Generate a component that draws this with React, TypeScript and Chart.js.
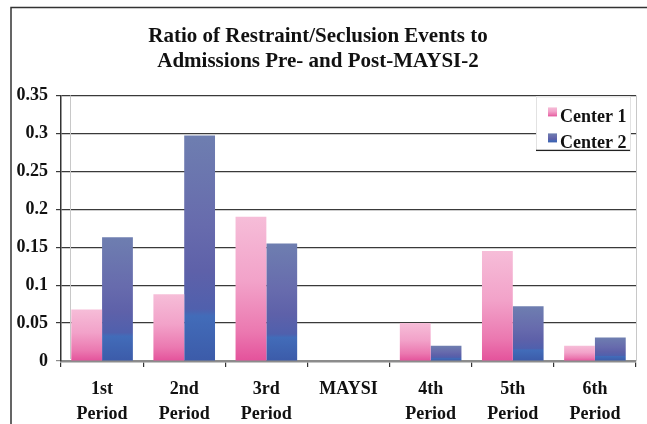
import { useEffect, useRef } from 'react';
import { Chart, registerables } from 'chart.js';

Chart.register(...registerables);

const categories: (string | string[])[] = [
  ['1st', 'Period'],
  ['2nd', 'Period'],
  ['3rd', 'Period'],
  'MAYSI',
  ['4th', 'Period'],
  ['5th', 'Period'],
  ['6th', 'Period'],
];
const center1 = [0.068, 0.088, 0.19, 0, 0.05, 0.145, 0.02];
const center2 = [0.163, 0.297, 0.155, 0, 0.02, 0.072, 0.031];
const seriesLabels = ['Center 1', 'Center 2'];
const titleLines = ['Ratio of Restraint/Seclusion Events to', 'Admissions Pre- and Post-MAYSI-2'];
const yTickLabels = ['0', '0.05', '0.1', '0.15', '0.2', '0.25', '0.3', '0.35'];

const SERIF = '"Liberation Serif", "Times New Roman", serif';

const pinkStops: [number, string][] = [
  [0, '#f6bdd8'],
  [0.45, '#f2a2c9'],
  [0.8, '#eb78b0'],
  [1, '#e4529b'],
];
const blueStops: [number, string][] = [
  [0, '#6e7eb0'],
  [0.4, '#676bad'],
  [0.6, '#5e61a9'],
  [0.77, '#5060ad'],
  [0.8, '#426cb9'],
  [1, '#3c5ba9'],
];

function makeFill(stops: [number, string][], fallback: string) {
  return (c: any) => {
    const chart = c.chart;
    const ys = chart.scales && chart.scales.y;
    if (!ys || c.type !== 'data') return fallback;
    const v = c.raw as number;
    const top = ys.getPixelForValue(v);
    const bot = ys.getPixelForValue(0);
    if (!isFinite(top) || !isFinite(bot) || bot - top < 1) return fallback;
    const g = chart.ctx.createLinearGradient(0, top, 0, bot);
    stops.forEach(([o, col]) => g.addColorStop(o, col));
    return g;
  };
}

const framePlugin = {
  id: 'frameAndLegend',
  afterDraw(chart: any) {
    const ctx: CanvasRenderingContext2D = chart.ctx;
    const area = chart.chartArea;
    ctx.save();
    // outer frame
    ctx.strokeStyle = '#333';
    ctx.lineWidth = 1.5;
    ctx.strokeRect(11, 7.5, 800, 600);

    // plot back-wall borders (light)
    ctx.strokeStyle = '#c8c8c8';
    ctx.lineWidth = 1;
    ctx.beginPath();
    ctx.moveTo(area.right + 0.5, area.top);
    ctx.lineTo(area.right + 0.5, area.bottom);
    ctx.moveTo(area.left + 9.5, area.top);
    ctx.lineTo(area.left + 9.5, area.bottom - 2);
    ctx.stroke();

    // legend box
    const bx = area.right - 100;
    const by = area.top + 1;
    const bw = 94;
    const bh = 54;
    ctx.fillStyle = '#ffffff';
    ctx.fillRect(bx, by, bw, bh);
    ctx.strokeStyle = '#e2e2e2';
    ctx.lineWidth = 1;
    ctx.strokeRect(bx + 0.5, by + 0.5, bw, bh);
    ctx.strokeStyle = '#222';
    ctx.lineWidth = 1.2;
    ctx.beginPath();
    ctx.moveTo(bx, by + bh);
    ctx.lineTo(bx + bw, by + bh);
    ctx.stroke();

    const stopsList = [pinkStops, blueStops];
    chart.data.datasets.forEach((ds: any, i: number) => {
      const sy = by + 11 + i * 26;
      const sx = bx + 12;
      const g = ctx.createLinearGradient(0, sy, 0, sy + 9);
      stopsList[i].forEach(([o, col]) => g.addColorStop(o, col));
      ctx.fillStyle = g;
      ctx.fillRect(sx, sy, 9, 9);
      ctx.fillStyle = '#111';
      ctx.font = `bold 18px ${SERIF}`;
      ctx.textBaseline = 'alphabetic';
      ctx.textAlign = 'left';
      ctx.fillText(ds.label, sx + 12, sy + 15);
    });
    ctx.restore();
  },
};

export default function App() {
  const ref = useRef<HTMLCanvasElement | null>(null);

  useEffect(() => {
    if (!ref.current) return;
    const chart = new Chart(ref.current, {
      type: 'bar',
      data: {
        labels: categories,
        datasets: [
          {
            label: seriesLabels[0],
            data: center1,
            backgroundColor: makeFill(pinkStops, '#f09ec6'),
            borderWidth: 0,
            categoryPercentage: 0.75,
            barPercentage: 1.0,
          },
          {
            label: seriesLabels[1],
            data: center2,
            backgroundColor: makeFill(blueStops, '#5e64aa'),
            borderWidth: 0,
            categoryPercentage: 0.75,
            barPercentage: 1.0,
          },
        ],
      },
      options: {
        animation: false,
        responsive: true,
        maintainAspectRatio: false,
        layout: { padding: { left: 0, right: 11, top: 0, bottom: 0 } },
        plugins: {
          legend: { display: false },
          tooltip: { enabled: false },
          title: {
            display: true,
            text: titleLines,
            color: '#111',
            font: { family: SERIF, size: 21, weight: 'bold', lineHeight: 1.2 },
            padding: { top: 24, bottom: 21 },
          },
        },
        scales: {
          x: {
            grid: {
              display: true,
              drawOnChartArea: false,
              drawTicks: true,
              tickLength: 6,
              color: '#333',
              lineWidth: 1.2,
              offset: true,
            },
            border: { display: true, color: '#8c8c8c', width: 2.5 },
            ticks: {
              color: '#111',
              font: { family: SERIF, size: 18, weight: 'bold', lineHeight: '25px' },
              padding: 10,
              maxRotation: 0,
              autoSkip: false,
            },
            afterFit: (s: any) => {
              s.height = 63;
            },
          },
          y: {
            min: 0,
            max: 0.35,
            ticks: {
              stepSize: 0.05,
              color: '#111',
              font: { family: SERIF, size: 18, weight: 'bold' },
              padding: 8,
              callback: (_v: any, i: number) => yTickLabels[i],
            },
            grid: {
              color: (c: any) => (c.tick && c.tick.value === 0 ? '#8c8c8c' : '#3a3a3a'),
              lineWidth: 1.2,
              drawTicks: true,
              tickLength: 5,
            },
            border: { display: true, color: '#333', width: 1.5 },
            afterFit: (s: any) => {
              s.width = 61;
            },
          },
        },
      },
      plugins: [framePlugin],
    });
    return () => chart.destroy();
  }, []);

  return (
    <div style={{ position: 'fixed', left: 0, top: 0, width: 647, height: 424, background: '#fff' }}>
      <canvas ref={ref} />
    </div>
  );
}
